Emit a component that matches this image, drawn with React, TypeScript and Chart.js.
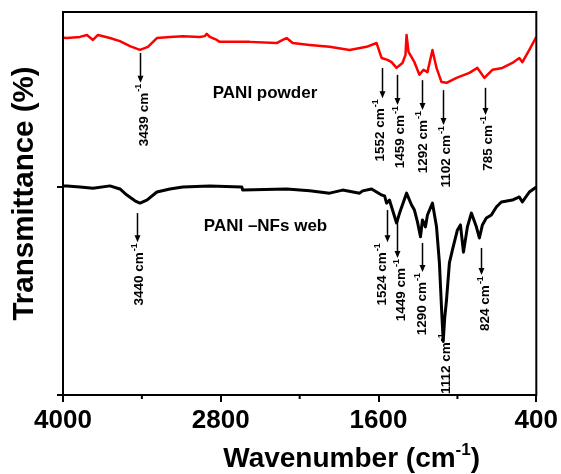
import React, { useEffect, useRef } from 'react';
import { Chart, registerables } from 'chart.js';

Chart.register(...registerables);

const FONT = '"Liberation Sans", Arial, Helvetica, sans-serif';

// Axis ticks
const xTickValues = [4000, 3400, 2800, 2200, 1600, 1000, 400];
const xMajorValues = [4000, 2800, 1600, 400];
const xMinorValues = [3400, 2200, 1000];
const yTickValues = [0, 54.3];

// PANI powder (red)
const powderWavenumber = [
  3995, 3970, 3871, 3818, 3772, 3734, 3643, 3567, 3491, 3415, 3354, 3286, 3187, 3089, 2959, 2922, 2906, 2884,
  2830, 2808, 2580, 2375, 2329, 2299, 2253, 2124, 1972, 1820, 1691, 1615, 1577, 1532, 1501, 1463, 1418, 1395,
  1387, 1372, 1327, 1289, 1258, 1228, 1190, 1159, 1121, 1083, 1007, 909, 848, 795, 734, 658, 582, 529, 506,
  453, 400,
];
const powderTransmittance = [
  93.3, 93.2, 93.5, 94.0, 92.7, 94.0, 93.2, 92.4, 91.1, 90.1, 90.9, 93.2, 93.5, 93.7, 93.5, 93.7, 94.3, 93.5,
  92.7, 92.2, 92.2, 91.9, 92.7, 93.2, 91.9, 91.4, 90.9, 90.1, 90.9, 91.9, 88.0, 87.5, 86.9, 85.4, 86.7, 88.8,
  94.0, 89.6, 86.9, 83.6, 84.9, 84.3, 90.1, 85.4, 81.7, 81.5, 82.8, 84.1, 85.4, 82.8, 84.9, 85.4, 86.7, 88.0,
  86.9, 90.1, 93.5,
];

// PANI-NFs web (black)
const webWavenumber = [
  3995, 3970, 3871, 3772, 3643, 3567, 3514, 3453, 3415, 3362, 3286, 3187, 3089, 2884, 2640, 2633, 2299, 2124,
  1972, 1873, 1744, 1721, 1653, 1577, 1554, 1539, 1517, 1463, 1440, 1387, 1349, 1327, 1304, 1281, 1266, 1243,
  1228, 1190, 1159, 1137, 1120, 1108, 1097, 1083, 1061, 1038, 1000, 977, 954, 924, 894, 856, 833, 810, 780,
  742, 704, 666, 582, 529, 506, 453, 400,
];
const webTransmittance = [
  54.6, 54.6, 54.3, 54.0, 54.6, 53.8, 52.2, 50.7, 50.1, 50.9, 53.0, 53.8, 54.3, 54.6, 54.3, 53.5, 53.8, 53.3,
  52.7, 53.5, 52.7, 53.3, 53.8, 52.2, 52.0, 50.1, 50.9, 44.9, 47.5, 52.7, 49.6, 48.3, 45.2, 41.3, 45.7, 43.9,
  47.0, 50.1, 43.9, 34.5, 22.0, 14.0, 20.0, 24.8, 34.5, 37.9, 43.1, 44.4, 37.3, 43.9, 47.5, 43.9, 41.0, 44.4,
  46.2, 47.0, 49.1, 50.4, 50.9, 51.7, 50.4, 53.0, 54.3,
];

// Peak annotations: label, arrow wavenumber, arrow start (top) and tip in transmittance units, label wavenumber
const powderPeakLabels = ['3439', '1552', '1459', '1292', '1102', '785'];
const powderPeakWavenumber = [3415, 1577, 1456, 1273, 1106, 787];
const powderArrowTop = [89.3, 85.4, 83.6, 82.2, 79.6, 80.2];
const powderArrowTip = [81.5, 77.5, 75.7, 74.4, 70.5, 73.1];
const powderLabelWavenumber = [3385, 1587, 1433, 1260, 1086, 767];

const webPeakLabels = ['3440', '1524', '1449', '1290', '1112', '824'];
const webPeakWavenumber = [3438, 1532, 1456, 1266, 1084, 818];
const webArrowTop = [47.5, 48.3, 45.7, 39.7, NaN, 38.4];
const webArrowTip = [39.9, 39.9, 35.8, 32.1, 16.4, 31.3];
const webLabelWavenumber = [3417, 1570, 1425, 1266, 1084, 787];

const seriesNames = ['PANI powder', 'PANI \u2013NFs web'];
const seriesNameWavenumber = [2861, 2929];
const seriesNameBaseline = [77.5, 42.8];

const App: React.FC = () => {
  const canvasRef = useRef<HTMLCanvasElement | null>(null);

  useEffect(() => {
    if (!canvasRef.current) return;

    const annotate = {
      id: 'annotate',
      afterDatasetsDraw(chart: any) {
        const ctx = chart.ctx as CanvasRenderingContext2D;
        const xs = chart.scales.x;
        const ys = chart.scales.y;
        const area = chart.chartArea;
        ctx.save();
        // frame
        ctx.strokeStyle = '#000';
        ctx.lineWidth = 2;
        ctx.strokeRect(area.left, area.top, area.right - area.left, area.bottom - area.top);
        // minor ticks
        xMinorValues.forEach((v) => {
          const px = xs.getPixelForValue(v);
          ctx.beginPath();
          ctx.moveTo(px, area.bottom);
          ctx.lineTo(px, area.bottom + 4);
          ctx.stroke();
        });

        const drawArrow = (wn: number, top: number, tip: number) => {
          const x = Math.round(xs.getPixelForValue(wn)) + 0.5;
          const y1 = ys.getPixelForValue(top);
          const y2 = ys.getPixelForValue(tip);
          ctx.fillStyle = '#000';
          ctx.lineWidth = 1.5;
          ctx.beginPath();
          ctx.moveTo(x, y1);
          ctx.lineTo(x, y2 - 5);
          ctx.stroke();
          ctx.beginPath();
          ctx.moveTo(x - 3, y2 - 7);
          ctx.lineTo(x + 3, y2 - 7);
          ctx.lineTo(x, y2);
          ctx.closePath();
          ctx.fill();
        };
        const drawRotLabel = (wn: number, tip: number, main: string) => {
          const x = xs.getPixelForValue(wn);
          const y = ys.getPixelForValue(tip) + 1;
          ctx.save();
          ctx.translate(x, y);
          ctx.rotate(-Math.PI / 2);
          ctx.fillStyle = '#000';
          ctx.textBaseline = 'middle';
          ctx.textAlign = 'left';
          const mainFont = `bold 13.5px ${FONT}`;
          const supFont = `bold 9px ${FONT}`;
          ctx.font = mainFont;
          const wm = ctx.measureText(main).width;
          ctx.font = supFont;
          const ws = ctx.measureText('-1').width;
          ctx.font = mainFont;
          ctx.fillText(main, -(wm + ws + 1), 0);
          ctx.font = supFont;
          ctx.fillText('-1', -ws, -5);
          ctx.restore();
        };

        powderPeakLabels.forEach((lab, i) => {
          drawArrow(powderPeakWavenumber[i], powderArrowTop[i], powderArrowTip[i]);
          drawRotLabel(powderLabelWavenumber[i], powderArrowTip[i], `${lab} cm`);
        });
        webPeakLabels.forEach((lab, i) => {
          if (!isNaN(webArrowTop[i])) drawArrow(webPeakWavenumber[i], webArrowTop[i], webArrowTip[i]);
          drawRotLabel(webLabelWavenumber[i], webArrowTip[i], `${lab} cm`);
        });

        // series names
        ctx.fillStyle = '#000';
        ctx.font = `bold 17px ${FONT}`;
        ctx.textAlign = 'left';
        ctx.textBaseline = 'alphabetic';
        seriesNames.forEach((name, i) => {
          ctx.fillText(name, xs.getPixelForValue(seriesNameWavenumber[i]), ys.getPixelForValue(seriesNameBaseline[i]));
        });

        // x title with superscript
        const tFont = `bold 28px ${FONT}`;
        const sFont = `bold 17px ${FONT}`;
        const p1 = 'Wavenumber (cm';
        const p2 = '-1';
        const p3 = ')';
        ctx.font = tFont;
        const w1 = ctx.measureText(p1).width;
        const w3 = ctx.measureText(p3).width;
        ctx.font = sFont;
        const w2 = ctx.measureText(p2).width;
        const total = w1 + w2 + w3;
        const cx = (area.left + area.right) / 2 + 52;
        const base = area.bottom + 72;
        let sx = cx - total / 2;
        ctx.font = tFont;
        ctx.fillText(p1, sx, base);
        sx += w1;
        ctx.font = sFont;
        ctx.fillText(p2, sx, base - 12);
        sx += w2;
        ctx.font = tFont;
        ctx.fillText(p3, sx, base);

        // y title
        ctx.save();
        ctx.translate(area.left - 30, (area.top + area.bottom) / 2 - 10);
        ctx.rotate(-Math.PI / 2);
        ctx.textAlign = 'center';
        ctx.textBaseline = 'alphabetic';
        ctx.font = `bold 29.5px ${FONT}`;
        ctx.fillText('Transmittance (%)', 0, 0);
        ctx.restore();

        ctx.restore();
      },
    };

    const chart = new Chart(canvasRef.current, {
      type: 'line',
      data: {
        datasets: [
          {
            label: seriesNames[0],
            data: powderWavenumber.map((x, i) => ({ x, y: powderTransmittance[i] })),
            borderColor: '#ff0000',
            borderWidth: 2.5,
            pointRadius: 0,
            tension: 0,
            borderJoinStyle: 'round',
          },
          {
            label: seriesNames[1],
            data: webWavenumber.map((x, i) => ({ x, y: webTransmittance[i] })),
            borderColor: '#000000',
            borderWidth: 3,
            pointRadius: 0,
            tension: 0,
            borderJoinStyle: 'round',
          },
        ],
      },
      options: {
        animation: false,
        responsive: false,
        layout: { padding: { top: 12, right: 24, left: 0, bottom: 0 } },
        plugins: { legend: { display: false }, tooltip: { enabled: false } },
        scales: {
          x: {
            type: 'linear',
            min: 400,
            max: 4000,
            reverse: true,
            afterBuildTicks: (scale: any) => {
              scale.ticks = xTickValues.map((v) => ({ value: v }));
            },
            afterFit: (scale: any) => {
              scale.height = 79;
            },
            ticks: {
              autoSkip: false,
              maxRotation: 0,
              padding: 3,
              color: '#000',
              font: { family: FONT, size: 26, weight: 'bold' },
              callback: (v: any) => (xMajorValues.includes(Number(v)) ? String(v) : ''),
            },
            grid: {
              drawOnChartArea: false,
              drawTicks: true,
              tickLength: 7,
              lineWidth: 2,
              color: (c: any) => (c.tick && xMajorValues.includes(c.tick.value) ? '#000' : 'rgba(0,0,0,0)'),
            },
            border: { display: true, color: '#000', width: 2 },
          },
          y: {
            type: 'linear',
            min: 0,
            max: 100,
            afterBuildTicks: (scale: any) => {
              scale.ticks = yTickValues.map((v) => ({ value: v }));
            },
            afterFit: (scale: any) => {
              scale.width = 63;
            },
            ticks: { display: false },
            grid: { drawOnChartArea: false, drawTicks: true, tickLength: 6, lineWidth: 2, color: '#000' },
            border: { display: true, color: '#000', width: 2 },
          },
        },
      },
      plugins: [annotate],
    } as any);

    return () => chart.destroy();
  }, []);

  return (
    <div style={{ position: 'fixed', left: 0, top: 0, width: 561, height: 474, background: '#fff' }}>
      <canvas ref={canvasRef} width={561} height={474} style={{ display: 'block' }} />
    </div>
  );
};

export default App;
